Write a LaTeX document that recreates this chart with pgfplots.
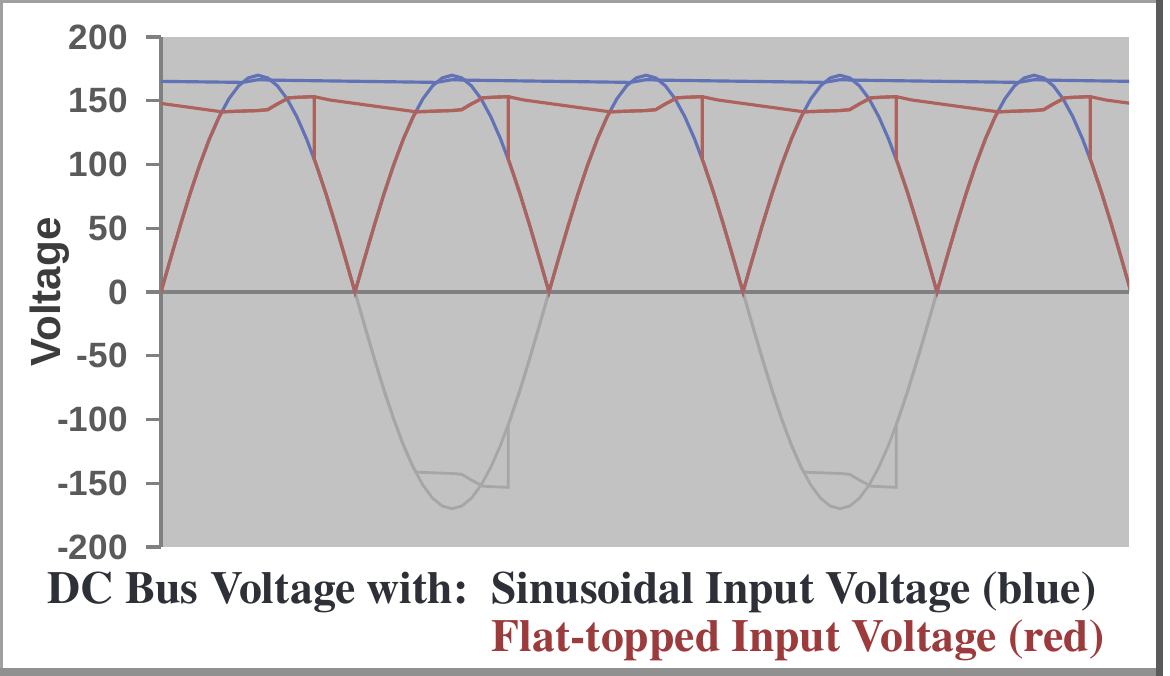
\documentclass[border=0pt]{standalone}
\usepackage{fontspec}
\setsansfont{Liberation Sans}
\newfontfamily\capfont{texgyretermes}[Extension=.otf, UprightFont=*-regular, BoldFont=*-bold]
\usepackage{pgfplots}
\pgfplotsset{compat=1.18}
\definecolor{plotbg}{HTML}{C2C2C2}
\definecolor{axgray}{HTML}{808080}
\definecolor{bluel}{HTML}{6272B6}
\definecolor{redl}{HTML}{AE625C}
\definecolor{lobe}{HTML}{A6A6A6}
\definecolor{ticktext}{HTML}{5A5A5A}
\definecolor{labtext}{HTML}{3C3C3C}
\definecolor{cap1}{HTML}{2E3038}
\definecolor{cap2}{HTML}{9C3A3C}
\definecolor{frameA}{HTML}{A0A0A0}
\definecolor{frameB}{HTML}{5A5A5A}

\begin{document}
\begin{tikzpicture}[x=1cm,y=1cm]
\path[use as bounding box] (0,0) rectangle (11.70,-6.76);
\fill[white] (0,0) rectangle (11.70,-6.76);
\begin{axis}[
  at={(1.61cm,-0.37cm)}, anchor=north west,
  width=9.68cm, height=5.10cm, scale only axis,
  xmin=0, xmax=4.99, ymin=-200, ymax=200,
  axis x line=none, axis y line*=left,
  axis background/.style={fill=plotbg},
  axis line style={axgray, line width=1.1pt},
  xtick=\empty,
  ytick={-200,-150,-100,-50,0,50,100,150,200},
  yticklabels={-200,-150,-100,-50,0,50,100,150,200},
  tick align=outside, major tick length=0.15cm,
  ytick style={axgray, line width=0.9pt},
  yticklabel style={font=\sffamily\bfseries\fontsize{10}{12}\selectfont, text=ticktext, xshift=-0.06cm},
  ylabel={Voltage},
  ylabel style={font=\sffamily\bfseries\fontsize{12}{14}\selectfont, text=labtext,
    at={(axis description cs:-0.1147,0.5)}, anchor=center, rotate=0},
  clip=true,
]
% zero line
\addplot[axgray, line width=1.2pt, forget plot] coordinates {(0,0) (4.99,0)};

% negative (unrectified) input lobes, grey
\addplot[lobe, line width=0.8pt] table {
1 0
1.05 -26.6
1.1 -52.5
1.15 -77.2
1.2 -99.9
1.25 -120.2
1.3 -137.5
1.35 -151.5
1.4 -161.7
1.45 -167.9
1.5 -170
1.55 -167.9
1.6 -161.7
1.65 -151.5
1.7 -137.5
1.75 -120.2
1.8 -99.9
1.85 -77.2
1.9 -52.5
1.95 -26.6
2 0
};
\addplot[lobe, line width=0.8pt] table {
3 0
3.05 -26.6
3.1 -52.5
3.15 -77.2
3.2 -99.9
3.25 -120.2
3.3 -137.5
3.35 -151.5
3.4 -161.7
3.45 -167.9
3.5 -170
3.55 -167.9
3.6 -161.7
3.65 -151.5
3.7 -137.5
3.75 -120.2
3.8 -99.9
3.85 -77.2
3.9 -52.5
3.95 -26.6
4 0
};
\addplot[lobe, line width=0.8pt] table {
1 0
1.05 -26.6
1.1 -52.5
1.15 -77.2
1.2 -99.9
1.25 -120.2
1.3 -137.5
1.315 -141.3
1.4 -141.8
1.5 -142.3
1.55 -143.0
1.6 -147.5
1.66 -152.3
1.72 -152.8
1.79 -153.2
1.79 -104.2
1.8 -99.9
1.85 -77.2
1.9 -52.5
1.95 -26.6
2 0
};
\addplot[lobe, line width=0.8pt] table {
3 0
3.05 -26.6
3.1 -52.5
3.15 -77.2
3.2 -99.9
3.25 -120.2
3.3 -137.5
3.315 -141.3
3.4 -141.8
3.5 -142.3
3.55 -143.0
3.6 -147.5
3.66 -152.3
3.72 -152.8
3.79 -153.2
3.79 -104.2
3.8 -99.9
3.85 -77.2
3.9 -52.5
3.95 -26.6
4 0
};

% blue: rectified sinusoidal input
\addplot[bluel, line width=0.9pt] table {
0 0
0.05 26.6
0.1 52.5
0.15 77.2
0.2 99.9
0.25 120.2
0.3 137.5
0.35 151.5
0.4 161.7
0.45 167.9
0.5 170
0.55 167.9
0.6 161.7
0.65 151.5
0.7 137.5
0.75 120.2
0.8 99.9
0.85 77.2
0.9 52.5
0.95 26.6
1 0
1.05 26.6
1.1 52.5
1.15 77.2
1.2 99.9
1.25 120.2
1.3 137.5
1.35 151.5
1.4 161.7
1.45 167.9
1.5 170
1.55 167.9
1.6 161.7
1.65 151.5
1.7 137.5
1.75 120.2
1.8 99.9
1.85 77.2
1.9 52.5
1.95 26.6
2 0
2.05 26.6
2.1 52.5
2.15 77.2
2.2 99.9
2.25 120.2
2.3 137.5
2.35 151.5
2.4 161.7
2.45 167.9
2.5 170
2.55 167.9
2.6 161.7
2.65 151.5
2.7 137.5
2.75 120.2
2.8 99.9
2.85 77.2
2.9 52.5
2.95 26.6
3 0
3.05 26.6
3.1 52.5
3.15 77.2
3.2 99.9
3.25 120.2
3.3 137.5
3.35 151.5
3.4 161.7
3.45 167.9
3.5 170
3.55 167.9
3.6 161.7
3.65 151.5
3.7 137.5
3.75 120.2
3.8 99.9
3.85 77.2
3.9 52.5
3.95 26.6
4 0
4.05 26.6
4.1 52.5
4.15 77.2
4.2 99.9
4.25 120.2
4.3 137.5
4.35 151.5
4.4 161.7
4.45 167.9
4.5 170
4.55 167.9
4.6 161.7
4.65 151.5
4.7 137.5
4.75 120.2
4.8 99.9
4.85 77.2
4.9 52.5
4.95 26.6
5 0
};

% red: rectified flat-topped input
\addplot[redl, line width=0.9pt] table {
0 0
0.05 26.6
0.1 52.5
0.15 77.2
0.2 99.9
0.25 120.2
0.3 137.5
0.315 141.3
0.4 141.8
0.5 142.3
0.55 143.0
0.6 147.5
0.66 152.3
0.72 152.8
0.79 153.2
0.79 104.2
0.8 99.9
0.85 77.2
0.9 52.5
0.95 26.6
1 0
1.05 26.6
1.1 52.5
1.15 77.2
1.2 99.9
1.25 120.2
1.3 137.5
1.315 141.3
1.4 141.8
1.5 142.3
1.55 143.0
1.6 147.5
1.66 152.3
1.72 152.8
1.79 153.2
1.79 104.2
1.8 99.9
1.85 77.2
1.9 52.5
1.95 26.6
2 0
2.05 26.6
2.1 52.5
2.15 77.2
2.2 99.9
2.25 120.2
2.3 137.5
2.315 141.3
2.4 141.8
2.5 142.3
2.55 143.0
2.6 147.5
2.66 152.3
2.72 152.8
2.79 153.2
2.79 104.2
2.8 99.9
2.85 77.2
2.9 52.5
2.95 26.6
3 0
3.05 26.6
3.1 52.5
3.15 77.2
3.2 99.9
3.25 120.2
3.3 137.5
3.315 141.3
3.4 141.8
3.5 142.3
3.55 143.0
3.6 147.5
3.66 152.3
3.72 152.8
3.79 153.2
3.79 104.2
3.8 99.9
3.85 77.2
3.9 52.5
3.95 26.6
4 0
4.05 26.6
4.1 52.5
4.15 77.2
4.2 99.9
4.25 120.2
4.3 137.5
4.315 141.3
4.4 141.8
4.5 142.3
4.55 143.0
4.6 147.5
4.66 152.3
4.72 152.8
4.79 153.2
4.79 104.2
4.8 99.9
4.85 77.2
4.9 52.5
4.95 26.6
5 0
};

% blue: DC bus with sinusoidal input
\addplot[bluel, line width=0.9pt] table {
0 165.2
0.42 164.4
0.5 166.5
0.6 166.1
1.42 164.4
1.5 166.5
1.6 166.1
2.42 164.4
2.5 166.5
2.6 166.1
3.42 164.4
3.5 166.5
3.6 166.1
4.42 164.4
4.5 166.5
4.6 166.1
5 165.2
};

% red: DC bus with flat-topped input
\addplot[redl, line width=0.9pt] table {
0 147.9
0.315 141.3
0.4 141.8
0.5 142.3
0.55 143.0
0.6 147.5
0.66 152.3
0.72 152.8
0.79 153.2
0.87 150.6
1.315 141.3
1.4 141.8
1.5 142.3
1.55 143.0
1.6 147.5
1.66 152.3
1.72 152.8
1.79 153.2
1.87 150.6
2.315 141.3
2.4 141.8
2.5 142.3
2.55 143.0
2.6 147.5
2.66 152.3
2.72 152.8
2.79 153.2
2.87 150.6
3.315 141.3
3.4 141.8
3.5 142.3
3.55 143.0
3.6 147.5
3.66 152.3
3.72 152.8
3.79 153.2
3.87 150.6
4.315 141.3
4.4 141.8
4.5 142.3
4.55 143.0
4.6 147.5
4.66 152.3
4.72 152.8
4.79 153.2
4.87 150.6
5 147.9
};
\end{axis}

% caption
\node[anchor=base west, inner sep=0pt, text=cap1, font=\capfont\bfseries\fontsize{13}{15}\selectfont]
  at (0.47,-6.03) {DC Bus Voltage with:\ \ Sinusoidal Input Voltage (blue)};
\node[anchor=base east, inner sep=0pt, text=cap2, font=\capfont\bfseries\fontsize{13}{15}\selectfont]
  at (11.05,-6.51) {Flat-topped Input Voltage (red)};

% frame
\fill[frameA] (0,0) rectangle (11.60,-0.03);
\fill[frameA] (0,0) rectangle (0.03,-6.76);
\fill[frameA!90!black] (0,-6.68) rectangle (11.58,-6.76);
\fill[frameB] (11.56,0) rectangle (11.63,-6.76);
\end{tikzpicture}
\end{document}
